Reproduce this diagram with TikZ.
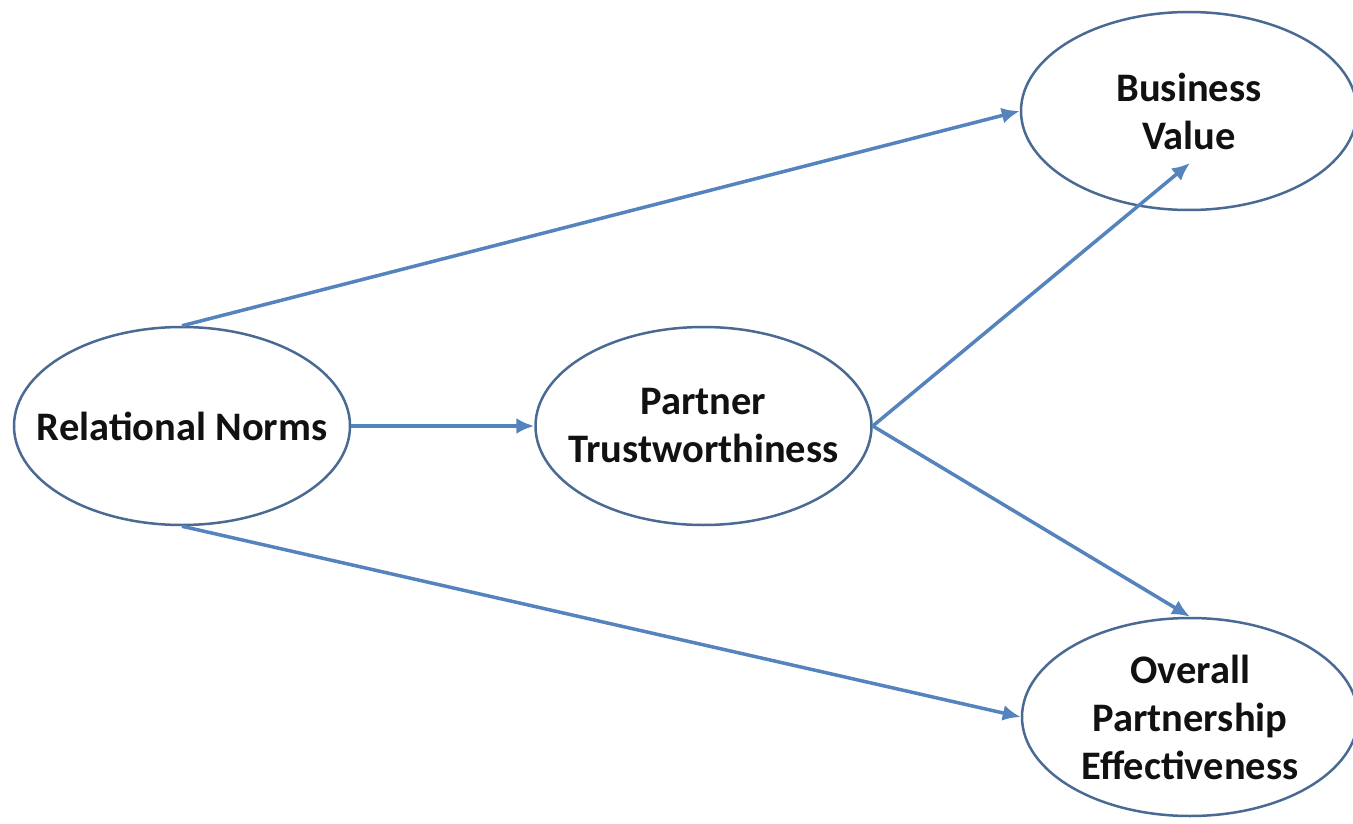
\documentclass[tikz,border=0pt]{standalone}
\usepackage{fontspec}
\setmainfont{Carlito}
\usepackage{tikz}
\usetikzlibrary{arrows.meta,positioning,shapes.geometric}
\definecolor{rimblue}{HTML}{4A6A94}
\definecolor{arrowblue}{HTML}{5483BE}
\definecolor{darktext}{HTML}{111111}
\tikzset{
  varnode/.style={draw=rimblue,line width=2.5pt,ellipse,inner ysep=-10pt,inner xsep=-30pt,minimum width=336pt,minimum height=198pt,align=center,font=\fontsize{40.5}{48}\selectfont\bfseries,text=darktext},
  arrow/.style={-{Latex[length=18pt,width=16pt]},line width=3.5pt,arrowblue}
}
\begin{document}
\begin{tikzpicture}[x=1pt,y=1pt]
  \useasboundingbox (0,0) rectangle (1353,-824);

  \node[varnode] (rn) at (182,-426) {Relational Norms};
  \node[varnode,right=183pt of rn] (pt) {Partner\\Trustworthiness};
  \node[varnode] (bv) at (1189,-111) {Business\\Value};
  \node[varnode] (ope) at (1190,-717) {Overall\\Partnership\\Effectiveness};
  \coordinate (bvtip) at (1190,-163);

  \draw[arrow] (rn.north) -- (bv.west);
  \draw[arrow] (rn.east) -- (pt.west);
  \draw[arrow] (pt.east) -- (bvtip);
  \draw[arrow] (pt.east) -- (ope.north);
  \draw[arrow] (rn.south) -- (ope.west);
\end{tikzpicture}
\end{document}
